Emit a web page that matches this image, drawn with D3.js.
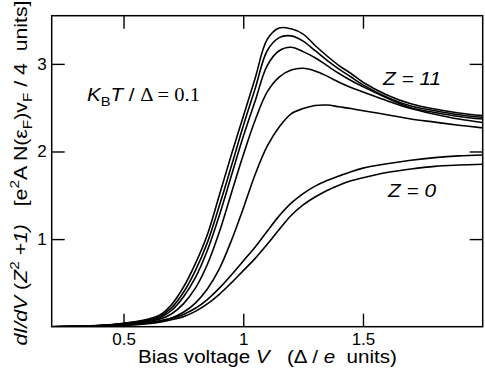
<!DOCTYPE html>
<html>
<head>
<meta charset="utf-8">
<script src="https://cdn.jsdelivr.net/npm/d3@7"></script>
<style>
  body { margin: 0; background: #fff; }
  text { font-family: "Liberation Sans", Arial, sans-serif; white-space: pre; }
</style>
</head>
<body>
<div id="chart"></div>
<script>
// bias voltage grid (Delta/e units)
const voltage = [0.2, 0.3, 0.4, 0.5, 0.6, 0.65, 0.7, 0.75, 0.8, 0.85, 0.9, 0.95, 1.0, 1.05,
                 1.1, 1.15, 1.2, 1.25, 1.3, 1.35, 1.4, 1.45, 1.5, 1.6, 1.7, 1.8, 1.9, 2.0];

// normalised conductance, one array per barrier strength (top -> bottom)
const cond1 = [0, 0.005, 0.015, 0.04, 0.085, 0.13, 0.25, 0.45, 0.72, 1.05, 1.50, 1.96, 2.40, 2.84,
               3.28, 3.41, 3.40, 3.34, 3.21, 3.09, 2.98, 2.89, 2.79, 2.645, 2.545, 2.485, 2.44, 2.41];
const cond2 = [0, 0.005, 0.014, 0.037, 0.075, 0.115, 0.215, 0.39, 0.64, 0.96, 1.38, 1.83, 2.29, 2.72,
               3.15, 3.30, 3.32, 3.26, 3.15, 3.04, 2.94, 2.85, 2.76, 2.62, 2.52, 2.465, 2.42, 2.39];
const cond3 = [0, 0.004, 0.013, 0.034, 0.068, 0.10, 0.185, 0.34, 0.56, 0.87, 1.27, 1.72, 2.17, 2.58,
               2.98, 3.15, 3.19, 3.14, 3.07, 2.98, 2.89, 2.81, 2.74, 2.61, 2.50, 2.445, 2.40, 2.37];
const cond4 = [0, 0.004, 0.011, 0.03, 0.058, 0.085, 0.145, 0.26, 0.44, 0.71, 1.08, 1.52, 1.96, 2.36,
               2.68, 2.85, 2.93, 2.95, 2.92, 2.86, 2.79, 2.73, 2.68, 2.58, 2.49, 2.425, 2.37, 2.33];
const cond5 = [0, 0.003, 0.009, 0.022, 0.045, 0.065, 0.10, 0.165, 0.27, 0.43, 0.66, 0.98, 1.35, 1.74,
               2.06, 2.28, 2.43, 2.49, 2.525, 2.53, 2.51, 2.49, 2.465, 2.42, 2.37, 2.335, 2.30, 2.27];
const cond6 = [0, 0.002, 0.006, 0.016, 0.04, 0.065, 0.095, 0.14, 0.21, 0.31, 0.44, 0.59, 0.75, 0.91,
               1.09, 1.265, 1.41, 1.52, 1.605, 1.67, 1.72, 1.77, 1.81, 1.86, 1.90, 1.93, 1.95, 1.96];
const cond7 = [0, 0.0015, 0.005, 0.013, 0.033, 0.052, 0.08, 0.115, 0.175, 0.26, 0.37, 0.50, 0.64, 0.78,
               0.94, 1.11, 1.27, 1.39, 1.48, 1.555, 1.615, 1.665, 1.70, 1.76, 1.80, 1.83, 1.845, 1.855];

const xTicks = [0.5, 1, 1.5];
const yTicks = [1, 2, 3];

const allCurves = [cond1, cond2, cond3, cond4, cond5, cond6, cond7];

const W = 485, H = 371;
const pLeft = 51.7, pRight = 482.7, pTop = 15.7, pBottom = 326.7;

const svg = d3.select("#chart").append("svg")
    .attr("width", W)
    .attr("height", H);

const xScale = d3.scaleLinear().domain([0.2, 2.0]).range([pLeft, pRight]);
const yScale = d3.scaleLinear().domain([0, 3.55]).range([pBottom, pTop]);

svg.append("clipPath").attr("id", "plotclip")
    .append("rect")
    .attr("x", pLeft).attr("y", pTop)
    .attr("width", pRight - pLeft).attr("height", pBottom - pTop);

// curves
const line = d3.line()
    .x((d, i) => xScale(voltage[i]))
    .y(d => yScale(d))
    .curve(d3.curveCatmullRom.alpha(0.5));

svg.append("g")
    .attr("clip-path", "url(#plotclip)")
    .selectAll("path")
    .data(allCurves)
    .join("path")
    .attr("d", d => line(d))
    .attr("fill", "none")
    .attr("stroke", "#000")
    .attr("stroke-width", 1.6);

// axes, ticks pointing inwards on all four sides
const tick = 13;
const xAxis = svg.append("g")
    .attr("transform", `translate(0,${pBottom})`)
    .call(d3.axisBottom(xScale).tickValues(xTicks).tickFormat(d3.format("")).tickSizeInner(-tick).tickSizeOuter(0).tickPadding(6));
const xAxisTop = svg.append("g")
    .attr("transform", `translate(0,${pTop})`)
    .call(d3.axisTop(xScale).tickValues(xTicks).tickFormat("").tickSizeInner(-tick).tickSizeOuter(0));
const yAxis = svg.append("g")
    .attr("transform", `translate(${pLeft},0)`)
    .call(d3.axisLeft(yScale).tickValues(yTicks).tickFormat(d3.format("d")).tickSizeInner(-tick).tickSizeOuter(0).tickPadding(5));
const yAxisRight = svg.append("g")
    .attr("transform", `translate(${pRight},0)`)
    .call(d3.axisRight(yScale).tickValues(yTicks).tickFormat("").tickSizeInner(-tick).tickSizeOuter(0));

[xAxis, xAxisTop, yAxis, yAxisRight].forEach(g => {
    g.select(".domain").remove();
    g.selectAll(".tick line").attr("stroke", "#000").attr("stroke-width", 1.4);
    g.selectAll(".tick text")
        .attr("fill", "#000")
        .style("font-family", "Liberation Sans, Arial, sans-serif")
        .style("font-size", "17px");
});

// frame
svg.append("rect")
    .attr("x", pLeft).attr("y", pTop)
    .attr("width", pRight - pLeft).attr("height", pBottom - pTop)
    .attr("fill", "none")
    .attr("stroke", "#000")
    .attr("stroke-width", 1.5);

// helper for rich text with italics / sub / sup
function richText(sel, parts, size) {
    let shift = 0;
    parts.forEach(p => {
        const ts = sel.append("tspan").text(p.t);
        let target = 0;
        if (p.sup) target = -0.42 * size;
        if (p.sub) target = 0.3 * size;
        if (target !== shift) { ts.attr("dy", target - shift); shift = target; }
        if (p.i) ts.style("font-style", "italic");
        if (p.serif) ts.style("font-family", "Liberation Serif, Times New Roman, serif");
        if (p.sup || p.sub) ts.style("font-size", (size * 0.72) + "px");
    });
}

// x axis title
const xTitle = svg.append("text")
    .attr("x", 267.5)
    .attr("y", 363)
    .attr("text-anchor", "middle")
    .attr("textLength", 259)
    .attr("lengthAdjust", "spacingAndGlyphs")
    .style("font-size", "18px");
richText(xTitle, [
    { t: "Bias voltage " }, { t: "V", i: true }, { t: "   (Δ / " }, { t: "e", i: true }, { t: "  units)" }
], 18);

// y axis title
const yTitle = svg.append("text")
    .attr("transform", "translate(27,173) rotate(-90)")
    .attr("text-anchor", "middle")
    .attr("textLength", 345)
    .attr("lengthAdjust", "spacingAndGlyphs")
    .style("font-size", "18px");
richText(yTitle, [
    { t: "dI/dV", i: true }, { t: " (" }, { t: "Z", i: true }, { t: "2", sup: true }, { t: " +1)", i: true },
    { t: "   [e" }, { t: "2", sup: true }, { t: "A N(ε" }, { t: "F", sub: true }, { t: ")v" },
    { t: "F", sub: true }, { t: " / 4  units]" }
], 18);

// annotations
const tempLabel = svg.append("text")
    .attr("x", 87)
    .attr("y", 101)
    .attr("textLength", 113)
    .attr("lengthAdjust", "spacingAndGlyphs")
    .style("font-size", "18px");
richText(tempLabel, [
    { t: "K", i: true }, { t: "B", sub: true }, { t: "T", i: true }, { t: " / " },
    { t: "Δ = 0.1", serif: true }
], 18);

svg.append("text")
    .attr("x", 383)
    .attr("y", 85)
    .attr("textLength", 58)
    .attr("lengthAdjust", "spacingAndGlyphs")
    .style("font-size", "18px")
    .style("font-style", "italic")
    .text("Z = 11");

svg.append("text")
    .attr("x", 388)
    .attr("y", 197)
    .attr("textLength", 48)
    .attr("lengthAdjust", "spacingAndGlyphs")
    .style("font-size", "18px")
    .style("font-style", "italic")
    .text("Z = 0");
</script>
</body>
</html>
